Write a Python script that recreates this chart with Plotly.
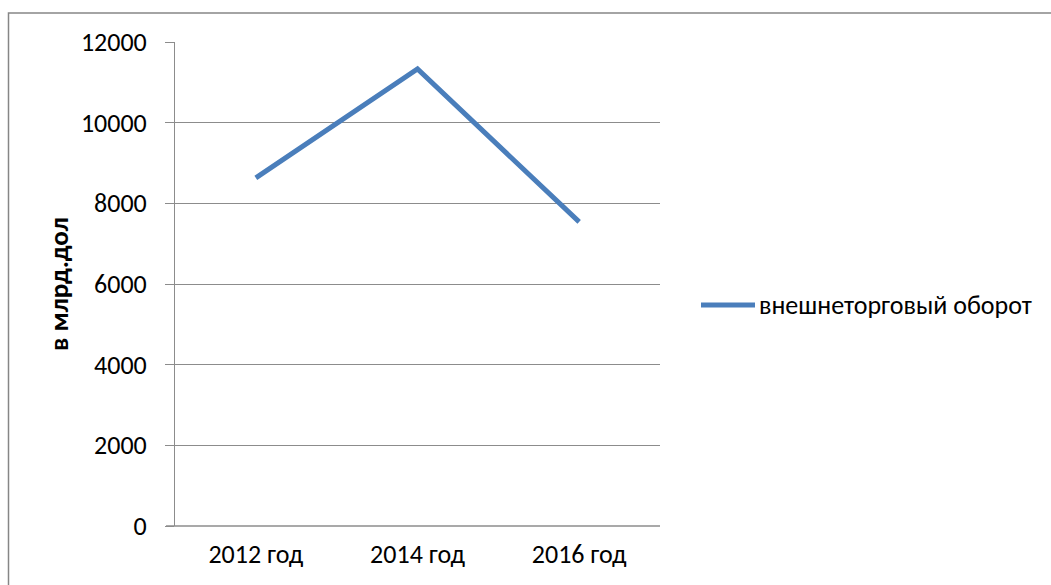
import plotly.graph_objects as go

categories = ["2012 год", "2014 год", "2016 год"]
values = [8630, 11330, 7540]
series_name = "внешнеторговый оборот"
y_ticks = [0, 2000, 4000, 6000, 8000, 10000, 12000]
y_tick_labels = ["0", "2000", "4000", "6000", "8000", "10000", "12000"]

W, H = 1051, 585
L, R, T, B = 175, 660, 42, 526
pw, ph = R - L, B - T

def px(x):
    return (x - L) / pw

def py(y):
    return (B - y) / ph

LINE_COLOR = "#4A7EBB"

fig = go.Figure()
fig.add_trace(go.Scatter(
    x=list(range(len(categories))), y=values, mode="lines", name=series_name,
    line=dict(color=LINE_COLOR, width=5), showlegend=False,
))

font = "Carlito, Calibri, 'Liberation Sans', Arial, sans-serif"
fig.update_layout(
    width=W, height=H,
    margin=dict(l=L, r=W - R, t=T, b=H - B),
    paper_bgcolor="white", plot_bgcolor="white",
    font=dict(family=font, size=26, color="black"),
    xaxis=dict(
        tickmode="array", tickvals=list(range(len(categories))), ticktext=categories,
        range=[-0.5, len(categories) - 0.5], showgrid=False, zeroline=False,
        showline=False, ticks="", ticklabelstandoff=10,
        tickfont=dict(size=26),
    ),
    yaxis=dict(
        range=[0, 12000], tickmode="array", tickvals=y_ticks, ticktext=y_tick_labels,
        showgrid=True, gridcolor="#8C8C8C", gridwidth=1,
        zeroline=False, showline=True, linecolor="#8C8C8C", linewidth=1,
        ticks="outside", ticklen=9, tickcolor="#8C8C8C", tickwidth=1,
        ticklabelstandoff=13, tickfont=dict(size=26),
        title=dict(text="<b>в млрд.дол</b>", font=dict(size=27), standoff=4),
    ),
    shapes=[
        dict(type="line", xref="paper", yref="paper", x0=px(166), x1=1, y0=0, y1=0,
             line=dict(color="#8C8C8C", width=1.5)),
        dict(type="rect", xref="paper", yref="paper", x0=px(8.5), x1=px(1120),
             y0=py(620), y1=py(13), line=dict(color="#868686", width=1.5),
             layer="below"),
        dict(type="line", xref="paper", yref="paper", x0=px(701), x1=px(755),
             y0=py(305), y1=py(305), line=dict(color=LINE_COLOR, width=5)),
    ],
    annotations=[
        dict(text=series_name, xref="paper", yref="paper", x=px(757), y=py(305),
             xanchor="left", yanchor="middle", showarrow=False,
             font=dict(size=26, color="black")),
    ],
)

fig.write_html("out.html")
